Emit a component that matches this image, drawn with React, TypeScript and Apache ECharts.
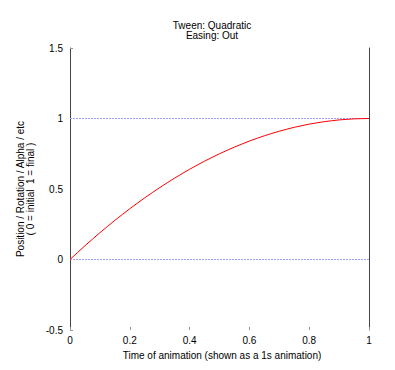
import React, { useEffect, useRef } from "react";
import * as echarts from "echarts";

const titleLines = ["Tween: Quadratic", "Easing: Out"];
const xLabel = "Time of animation (shown as a 1s animation)";
const yLabelLines = ["Position / Rotation / Alpha / etc", "( 0 = initial  1 = final )"];
const times = [0, 0.025, 0.05, 0.075, 0.1, 0.125, 0.15, 0.175, 0.2, 0.225, 0.25, 0.275, 0.3, 0.325, 0.35, 0.375, 0.4, 0.425, 0.45, 0.475, 0.5, 0.525, 0.55, 0.575, 0.6, 0.625, 0.65, 0.675, 0.7, 0.725, 0.75, 0.775, 0.8, 0.825, 0.85, 0.875, 0.9, 0.925, 0.95, 0.975, 1];
const positions = [0, 0.049, 0.0975, 0.144, 0.19, 0.234, 0.2775, 0.319, 0.36, 0.399, 0.4375, 0.474, 0.51, 0.544, 0.5775, 0.609, 0.64, 0.669, 0.6975, 0.724, 0.75, 0.774, 0.7975, 0.819, 0.84, 0.859, 0.8775, 0.894, 0.91, 0.924, 0.9375, 0.949, 0.96, 0.969, 0.9775, 0.984, 0.99, 0.994, 0.9975, 0.999, 1];
const referenceLevels = [0, 1];
const yTickEnds = [-0.5, 1.5];

const FONT = "'Liberation Sans', Arial, Helvetica, sans-serif";

export default function App() {
  const ref = useRef<HTMLDivElement>(null);
  useEffect(() => {
    if (!ref.current) return;
    const chart = echarts.init(ref.current, undefined, { renderer: "svg" });
    chart.setOption({
      animation: false,
      backgroundColor: "#ffffff",
      grid: { left: 70, right: 26, top: 48, bottom: 40, containLabel: false },
      xAxis: {
        type: "value",
        min: 0,
        max: 1,
        interval: 0.2,
        position: "bottom",
        axisLine: { show: false, onZero: false },
        axisTick: { show: true, inside: true, length: 3, lineStyle: { color: "#999" } },
        splitLine: { show: false },
        axisLabel: { color: "#000", fontFamily: FONT, fontSize: 10, margin: 5 },
      },
      yAxis: [
        {
          type: "value",
          min: -0.5,
          max: 1.5,
          interval: 0.5,
          axisLine: { show: true, onZero: false, lineStyle: { color: "#444", width: 1 } },
          axisTick: { show: true, inside: true, length: 3, customValues: yTickEnds, lineStyle: { color: "#999" } },
          splitLine: { show: false },
          axisLabel: { color: "#000", fontFamily: FONT, fontSize: 10, margin: 7 },
        },
        {
          type: "value",
          position: "right",
          min: -0.5,
          max: 1.5,
          interval: 0.5,
          axisLine: { show: true, onZero: false, lineStyle: { color: "#444", width: 1 } },
          axisTick: { show: false },
          splitLine: { show: false },
          axisLabel: { show: false },
        },
      ],
      graphic: [
        { type: "text", x: 212, y: 25, style: { text: titleLines[0], fontFamily: FONT, fontSize: 10, fill: "#000", align: "center", verticalAlign: "middle" } },
        { type: "text", x: 212, y: 35, style: { text: titleLines[1], fontFamily: FONT, fontSize: 10, fill: "#000", align: "center", verticalAlign: "middle" } },
        { type: "text", x: 222, y: 355, style: { text: xLabel, fontFamily: FONT, fontSize: 10, fill: "#000", align: "center", verticalAlign: "middle" } },
        { type: "text", x: 20, y: 189, rotation: Math.PI / 2, style: { text: yLabelLines[0], fontFamily: FONT, fontSize: 10, fill: "#000", align: "center", verticalAlign: "middle" } },
        { type: "text", x: 30, y: 189, rotation: Math.PI / 2, style: { text: yLabelLines[1], fontFamily: FONT, fontSize: 10, fill: "#000", align: "center", verticalAlign: "middle" } },
      ],
      series: [
        {
          type: "line",
          data: times.map((t, i) => [t, positions[i]]),
          showSymbol: false,
          smooth: false,
          lineStyle: { color: "#ff0000", width: 1 },
          z: 3,
          markLine: {
            silent: true,
            symbol: "none",
            label: { show: false },
            lineStyle: { color: "#a0a0ff", type: [2, 1], width: 1 },
            data: referenceLevels.map((v) => ({ yAxis: v })),
            z: 2,
          },
        },
      ],
    });
    return () => chart.dispose();
  }, []);
  return <div ref={ref} style={{ width: 395, height: 370, position: "absolute", left: 0, top: 0 }} />;
}
